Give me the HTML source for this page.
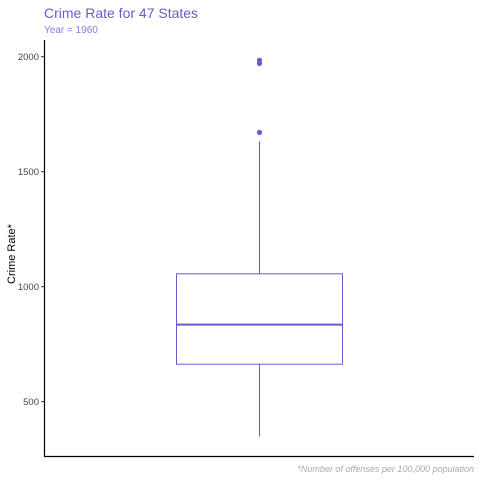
<!DOCTYPE html>
<html><head><meta charset="utf-8"><style>
body{margin:0;background:#fff;}
svg{display:block;font-family:"Liberation Sans",Arial,sans-serif;}
</style></head><body>
<svg id="chart" width="480" height="480">
<text x="44" y="18" font-size="14" fill="#6a5acd">Crime Rate for 47 States</text>
<text x="44" y="33" font-size="10" fill="#8a7de0">Year = 1960</text>
<text transform="translate(15,254) rotate(-90)" text-anchor="middle" font-size="11" fill="#000">Crime Rate*</text>
<text x="474" y="472" text-anchor="end" font-size="9" font-style="italic" fill="#aaa">*Number of offenses per 100,000 population</text>
<line x1="44.5" y1="40" x2="44.5" y2="456.5" stroke="#000" stroke-width="1.2"/>
<line x1="44" y1="456.5" x2="474" y2="456.5" stroke="#000" stroke-width="1.2"/>
<g id="ticks"></g>
<g id="marks"></g>
</svg>
<script>
const tickValues=[500,1000,1500,2000];
const boxStats=[348,663,835,1056,1633]; // min, q1, median, q3, max
const outliers=[1671,1971,1984];
const y=v=>516.7-0.23*v;
const cx=259.5, halfW=83;
const NS="http://www.w3.org/2000/svg";
function mk(tag,attrs,parent){const e=document.createElementNS(NS,tag);for(const k in attrs)e.setAttribute(k,attrs[k]);parent.appendChild(e);return e;}
const tg=document.getElementById('ticks');
tickValues.forEach(v=>{
  const l=mk('line',{x1:41,x2:44.5,y1:y(v),y2:y(v),stroke:'#333'},tg);
  
  
  const t=mk('text',{x:39,y:y(v)+3.5,'text-anchor':'end','font-size':'9.5',fill:'#444'},tg);
  t.textContent=v;
  
  
});
const m=document.getElementById('marks');
const c='#6a5acd';
const [mn,q1,md,q3,mx]=boxStats;
const w1=mk('line',{x1:cx,x2:cx,y1:y(q3),y2:y(mx),stroke:'#6e5a9a','stroke-width':1},m);


const w2=mk('line',{x1:cx,x2:cx,y1:y(q1),y2:y(mn),stroke:'#6e5a9a','stroke-width':1},m);


const b=mk('rect',{x:cx-halfW,y:y(q3),width:2*halfW,height:y(q1)-y(q3),fill:'#fff',stroke:c,'stroke-width':1},m);


const med=mk('line',{x1:cx-halfW,x2:cx+halfW,y1:y(md),y2:y(md),stroke:c,'stroke-width':2},m);


outliers.forEach((v,i)=>{
  const p=mk('circle',{cx:cx,cy:y(v),r:2.6,fill:c},m);
  
  
});
</script>
</body></html>
